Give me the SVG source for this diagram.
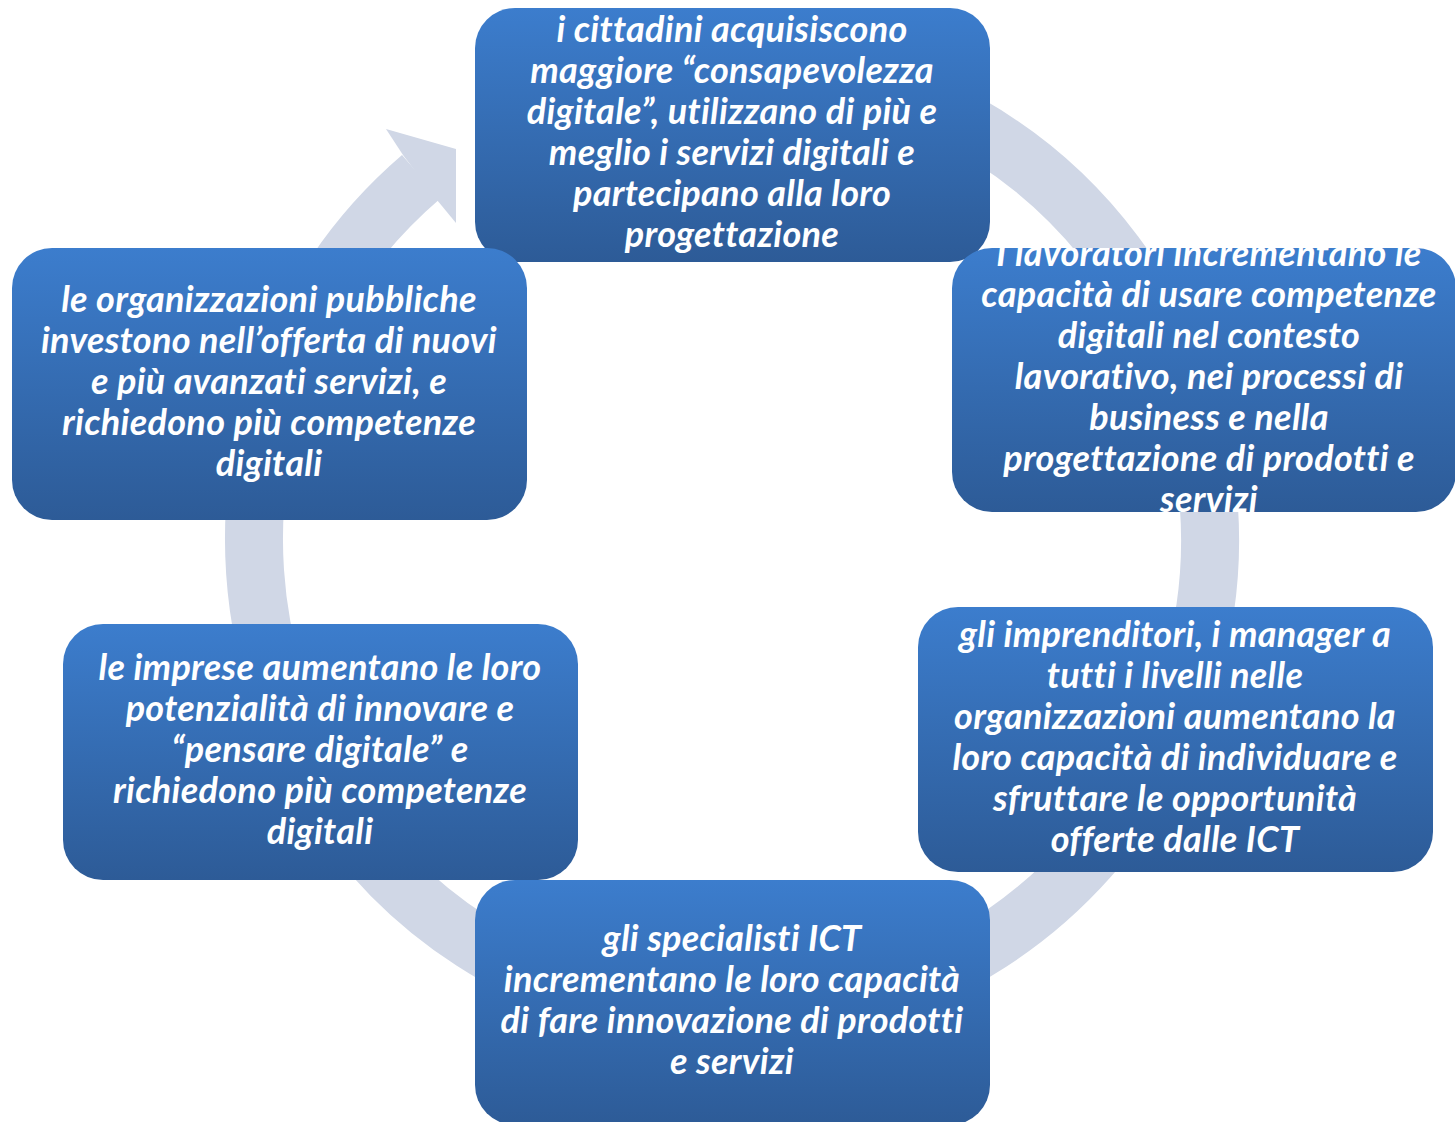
<svg xmlns="http://www.w3.org/2000/svg" width="1455" height="1122" viewBox="0 0 1455 1122">
<defs>
<linearGradient id="g" x1="0" y1="0" x2="0" y2="1">
<stop offset="0" stop-color="#3C7DCD"/>
<stop offset="1" stop-color="#2D5B97"/>
</linearGradient>
<clipPath id="c2"><rect x="952" y="248" width="504" height="264" rx="40"/></clipPath>
<style>
.box{fill:url(#g);}
.t{font-family:"Lato","Open Sans","Liberation Sans",sans-serif;font-weight:bold;font-style:italic;font-size:36px;letter-spacing:0.3px;font-variant-ligatures:none;fill:#FFFFFF;text-anchor:middle;}
.ring{fill:none;stroke:#D0D7E6;stroke-width:58;}
</style>
</defs>
<rect width="1455" height="1122" fill="#FFFFFF"/>
<g id="connectors">
<path class="ring" d="M 732 62 A 478 478 0 1 1 420.9 177.1"/>
<polygon points="386,129 456,149 456,223 437,200 403,155" fill="#D0D7E6"/>
</g>
<g id="n1">
<rect class="box" x="475" y="8" width="515" height="254" rx="40"/>
<text class="t"><tspan x="732" y="42">i cittadini acquisiscono</tspan><tspan x="732" y="83">maggiore “consapevolezza</tspan><tspan x="732" y="124">digitale”, utilizzano di più e</tspan><tspan x="732" y="165">meglio i servizi digitali e</tspan><tspan x="732" y="206">partecipano alla loro</tspan><tspan x="732" y="247">progettazione</tspan></text>
</g>
<g id="n2">
<rect class="box" x="952" y="248" width="504" height="264" rx="40"/>
<text class="t" clip-path="url(#c2)"><tspan x="1209" y="266">I lavoratori incrementano le</tspan><tspan x="1209" y="307">capacità di usare competenze</tspan><tspan x="1209" y="348">digitali nel contesto</tspan><tspan x="1209" y="389">lavorativo, nei processi di</tspan><tspan x="1209" y="430">business e nella</tspan><tspan x="1209" y="471">progettazione di prodotti e</tspan><tspan x="1209" y="512">servizi</tspan></text>
</g>
<g id="n3">
<rect class="box" x="918" y="607" width="515" height="265" rx="40"/>
<text class="t"><tspan x="1175" y="647">gli imprenditori, i manager a</tspan><tspan x="1175" y="688">tutti i livelli nelle</tspan><tspan x="1175" y="729">organizzazioni aumentano la</tspan><tspan x="1175" y="770">loro capacità di individuare e</tspan><tspan x="1175" y="811">sfruttare le opportunità</tspan><tspan x="1175" y="852">offerte dalle ICT</tspan></text>
</g>
<g id="n4">
<rect class="box" x="475" y="880" width="515" height="245" rx="40"/>
<text class="t"><tspan x="732" y="951">gli specialisti ICT</tspan><tspan x="732" y="992">incrementano le loro capacità</tspan><tspan x="732" y="1033">di fare innovazione di prodotti</tspan><tspan x="732" y="1074">e servizi</tspan></text>
</g>
<g id="n5">
<rect class="box" x="63" y="624" width="515" height="256" rx="40"/>
<text class="t"><tspan x="320" y="680">le imprese aumentano le loro</tspan><tspan x="320" y="721">potenzialità di innovare e</tspan><tspan x="320" y="762">“pensare digitale” e</tspan><tspan x="320" y="803">richiedono più competenze</tspan><tspan x="320" y="844">digitali</tspan></text>
</g>
<g id="n6">
<rect class="box" x="12" y="248" width="515" height="272" rx="40"/>
<text class="t"><tspan x="269" y="312">le organizzazioni pubbliche</tspan><tspan x="269" y="353">investono nell’offerta di nuovi</tspan><tspan x="269" y="394">e più avanzati servizi, e</tspan><tspan x="269" y="435">richiedono più competenze</tspan><tspan x="269" y="476">digitali</tspan></text>
</g>
</svg>
